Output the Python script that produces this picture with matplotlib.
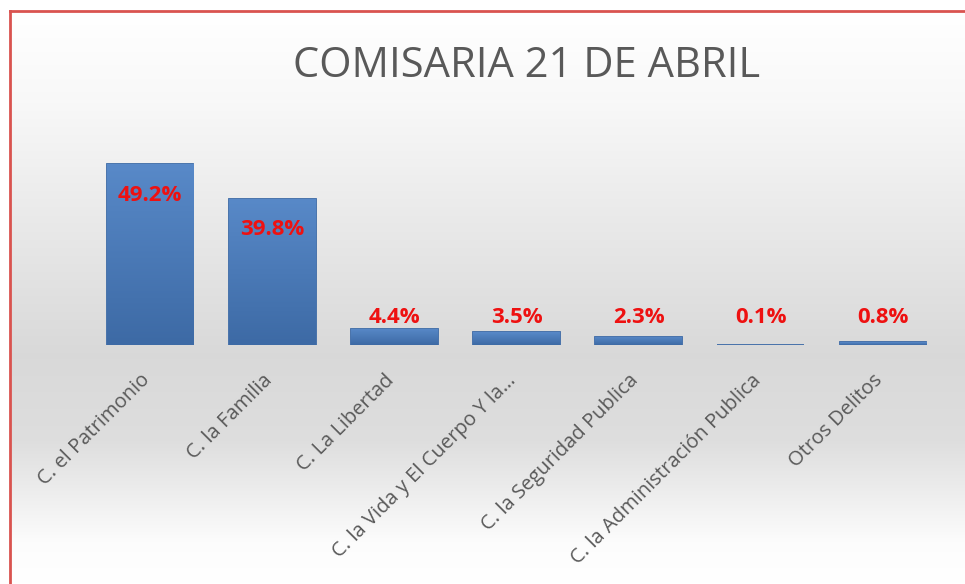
import numpy as np
import matplotlib.pyplot as plt
import matplotlib.transforms as mtransforms
from matplotlib.colors import LinearSegmentedColormap

# Datos
categorias = ["C. el Patrimonio", "C. la Familia", "C. La Libertad",
              "C. la Vida y El Cuerpo Y la…", "C. la Seguridad Publica",
              "C. la Administración Publica", "Otros Delitos"]
porcentajes = [49.2, 39.8, 4.4, 3.5, 2.3, 0.1, 0.8]
etiquetas = ["49.2%", "39.8%", "4.4%", "3.5%", "2.3%", "0.1%", "0.8%"]
titulo = "COMISARIA 21 DE ABRIL"

plt.rcParams['font.family'] = ['Open Sans', 'DejaVu Sans']

W, H = 965, 584
fig = plt.figure(figsize=(W / 100, H / 100), dpi=100)
fig.patch.set_facecolor("white")

# Fondo con degradado y borde rojo
bg = fig.add_axes([10 / W, 0, 1 - 10 / W, (H - 11) / H])
stops = [(0.0, 1.0), (0.15, 0.975), (0.6, 0.85), (0.75, 0.87), (0.93, 0.99), (1.0, 1.0)]
yy = np.linspace(0, 1, 400)
vals = np.interp(yy, [s[0] for s in stops], [s[1] for s in stops])
bg.imshow(np.dstack([vals, vals, vals]).reshape(400, 1, 3),
          aspect="auto", extent=[0, 1, 0, 1])
bg.set_xlim(0, 1)
bg.set_ylim(0, 1)
bg.set_xticks([])
bg.set_yticks([])
for s in ["right", "bottom"]:
    bg.spines[s].set_visible(False)
for s in ["left", "top"]:
    bg.spines[s].set_color("#d9534f")
    bg.spines[s].set_linewidth(2)

# Ejes del grafico
ax = fig.add_axes([89 / W, (H - 345) / H, (944 - 89) / W, 202 / H])
ax.patch.set_alpha(0)
x = np.arange(len(categorias))
bars = ax.bar(x, porcentajes, width=0.71, color="#4a7ebb",
              edgecolor="#3c6aa6", linewidth=1.3, zorder=2)

# degradado azul en cada barra
cmap = LinearSegmentedColormap.from_list("azul", ["#3d6aa5", "#5889c8"])
grad = np.linspace(0, 1, 100).reshape(-1, 1)
for b in bars:
    x0, y0 = b.get_x(), b.get_y()
    w, h = b.get_width(), b.get_height()
    im = ax.imshow(grad, cmap=cmap, aspect="auto", origin="lower",
                   extent=[x0, x0 + w, y0, y0 + max(h, 0.3)], zorder=3)
    im.set_clip_path(b)

ax.set_xlim(-0.5, len(categorias) - 0.5)
ax.set_ylim(0, 55)

for i, (v, t) in enumerate(zip(porcentajes, etiquetas)):
    if v > 20:
        ax.text(i, v - 8.4, t, ha="center", va="center", color="#ee1111",
                fontsize=16, fontweight="bold", zorder=4)
    else:
        ax.text(i, 7.6, t, ha="center", va="center", color="#ee1111",
                fontsize=16, fontweight="bold", zorder=4)

ax.set_xticks(x)
ax.set_xticklabels(categorias, rotation=45, ha="right", va="top",
                   rotation_mode="anchor", fontsize=14.5, color="#595959")
ax.tick_params(axis="x", length=0, pad=16)
offset = mtransforms.ScaledTranslation(-0.1, -0.03, fig.dpi_scale_trans)
for lbl in ax.get_xticklabels():
    lbl.set_transform(lbl.get_transform() + offset)
ax.set_yticks([])
for s in ax.spines.values():
    s.set_visible(False)

fig.text(527 / W, 1 - 66 / H, titulo, ha="center", va="center",
         fontsize=30, color="#595959")

fig.savefig("out.png", dpi=100)
